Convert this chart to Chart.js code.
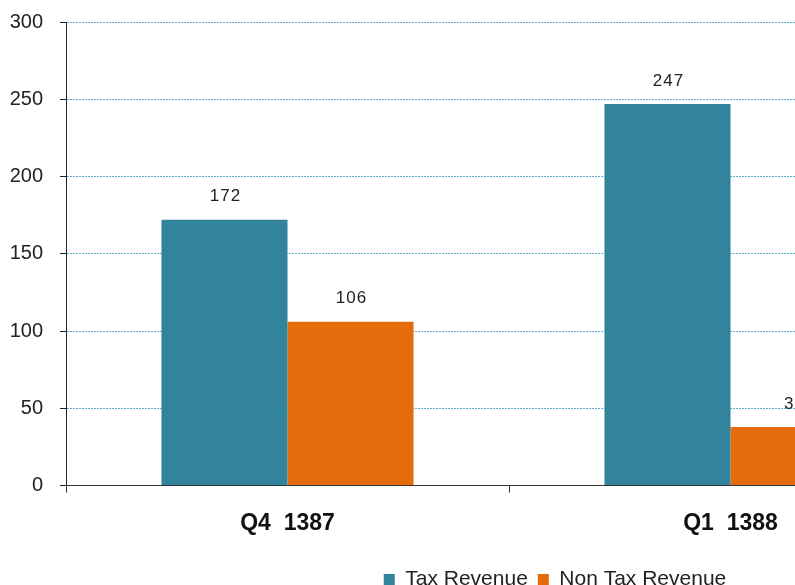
<!DOCTYPE html>
<html>
<head>
<meta charset="utf-8">
<script src="https://cdn.jsdelivr.net/npm/chart.js@4.4.0/dist/chart.umd.min.js"></script>
<style>
  html, body { margin: 0; padding: 0; background: #fff; overflow: hidden; }
  #wrap { position: relative; width: 1030px; height: 600px; }
</style>
</head>
<body>
<div id="wrap"><canvas id="revChart"></canvas></div>
<script>
// quarters and revenue values
const quarters = ['Q4  1387', 'Q1  1388'];
const taxRevenue = [172, 247];
const nonTaxRevenue = [106, 38];
const yTicks = [0, 50, 100, 150, 200, 250, 300];

const font = 'Liberation Sans, Arial, sans-serif';

// draw value labels above each bar
const valueLabels = {
  id: 'valueLabels',
  afterDatasetsDraw(chart) {
    const c = chart.ctx;
    c.save();
    c.font = '17px ' + font;
    c.letterSpacing = '1px';
    c.fillStyle = '#222';
    c.textAlign = 'center';
    c.textBaseline = 'middle';
    chart.data.datasets.forEach((ds, i) => {
      chart.getDatasetMeta(i).data.forEach((bar, j) => {
        c.fillText(ds.data[j], bar.x + 1, bar.y - 23);
      });
    });
    c.restore();
  }
};

// nudge the legend to the right, like the original
const legendShift = {
  id: 'legendShift',
  afterLayout(chart) {
    const l = chart.legend;
    if (l) { l.left += 79; l.right += 79; }
  }
};

const ctx = document.getElementById('revChart').getContext('2d');
const revChart = new Chart(ctx, {
  type: 'bar',
  data: {
    labels: quarters,
    datasets: [
      {
        label: 'Tax Revenue',
        data: taxRevenue,
        backgroundColor: '#31849B'
      },
      {
        label: 'Non Tax Revenue',
        data: nonTaxRevenue,
        backgroundColor: '#E46C0A'
      }
    ]
  },
  options: {
    responsive: true,
    maintainAspectRatio: false,
    animation: false,
    layout: { padding: { top: 22, right: 78, left: 0, bottom: 0 } },
    datasets: {
      bar: { barPercentage: 1, categoryPercentage: 0.569 }
    },
    scales: {
      y: {
        min: 0,
        max: 300,
        afterBuildTicks(s) { s.ticks = yTicks.map(v => ({ value: v })); },
        afterFit(s) { s.width = 66; s.paddingTop = 0; s.paddingBottom = 0; },
        border: { color: '#222', width: 1, dash: [2, 1] },
        grid: {
          color: '#62afc4',
          tickColor: '#222',
          tickLength: 6,
          tickBorderDash: [],
          lineWidth: 1
        },
        ticks: {
          color: '#222',
          padding: 17,
          font: { family: font, size: 20 }
        }
      },
      x: {
        afterFit(s) { s.height = 73.4; },
        border: { color: '#333', width: 1 },
        grid: {
          drawOnChartArea: false,
          tickColor: '#333',
          tickLength: 7
        },
        ticks: {
          color: '#111',
          padding: 17,
          font: { family: font, size: 23, weight: 'bold' }
        }
      }
    },
    plugins: {
      legend: {
        position: 'bottom',
        labels: {
          color: '#222',
          boxWidth: 11,
          boxHeight: 11,
          padding: 10,
          font: { family: font, size: 21 }
        }
      },
      tooltip: { enabled: false }
    }
  },
  plugins: [valueLabels, legendShift]
});
</script>
</body>
</html>
